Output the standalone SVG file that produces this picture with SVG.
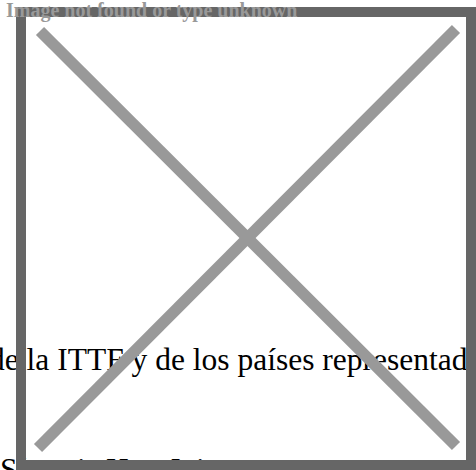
<svg xmlns="http://www.w3.org/2000/svg" width="476" height="470" viewBox="0 0 476 470">
<style>
.body{font-family:"Liberation Serif","Times New Roman",serif;font-size:31.5px;fill:#000}
.bar{fill:none;stroke:#666;stroke-width:10}
.x{stroke:#999;stroke-width:11.5;stroke-linecap:butt}
.lbl{font-family:"Liberation Serif","Times New Roman",serif;font-size:20px;font-weight:bold;fill:#999}
</style>
<rect width="476" height="470" fill="#fff"/>
<g id="page-text">
<text class="body" x="-11" y="370">de la ITTF y de los países representados</text>
<text class="body" x="0" y="480">Síntesis Hoy Juin</text>
</g>
<g id="broken-image">
<rect class="bar" x="21" y="12" width="450" height="453"/>
<line class="x" x1="40" y1="31" x2="456" y2="446"/>
<line class="x" x1="456" y1="29" x2="38" y2="448"/>
</g>
<g id="label">
<text class="lbl" x="6" y="17">Image not found or type unknown</text>
</g>
</svg>
